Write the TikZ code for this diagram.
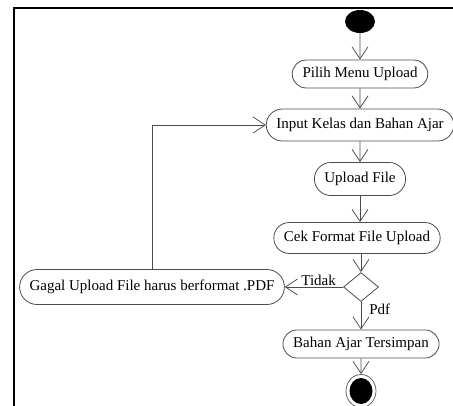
\documentclass[tikz,border=0pt]{standalone}
\usepackage{fontspec}
\setmainfont{Liberation Serif}
\usetikzlibrary{shapes.misc,shapes.geometric,arrows.meta}

\begin{document}
\begin{tikzpicture}[x=1pt, y=-1pt,
        aksi/.style={rounded rectangle, draw=black!70, line width=0.8pt, minimum height=30pt, inner xsep=8.5pt, font=\fontsize{15}{18}\selectfont},
        alur/.style={draw=black!70, line width=0.8pt, -{Straight Barb[length=12pt,width=16pt]}},
        ket/.style={font=\fontsize{15}{18}\selectfont, inner sep=1pt}]
        \useasboundingbox (0,0) rectangle (453,406);

        % Bingkai
        \draw[line width=2.5pt] (14,410) -- (14,8) -- (456,8);

        % Awal dan akhir
        \node[ellipse, fill=black, minimum width=30pt, minimum height=23pt, inner sep=0pt] (mulai) at (360,21.5) {};
        \node[ellipse, draw=black!60, line width=0.8pt, minimum width=30pt, minimum height=33pt, inner sep=0pt] (selesai) at (361,391) {};
        \node[ellipse, fill=black, minimum width=23pt, minimum height=26pt, inner sep=0pt] at (selesai) {};

        % Aktivitas
        \node[aksi, minimum height=28pt] (pilih) at (360,74) {Pilih Menu Upload};
        \node[aksi, minimum height=32pt] (input) at (360,125) {Input Kelas dan Bahan Ajar};
        \node[aksi, minimum height=33pt] (upload) at (360,179) {Upload File};
        \node[aksi, minimum height=31pt] (cek) at (357,238) {Cek Format File Upload};
        \node[diamond, draw=black!70, line width=0.8pt, minimum width=35pt, minimum height=29pt, inner sep=0pt] (format) at (361,287) {};
        \node[aksi, minimum height=35pt] (gagal) at (152,287) {Gagal Upload File harus berformat .PDF};
        \node[aksi, minimum height=28pt] (bahan) at (361,344) {Bahan Ajar Tersimpan};

        % Alur
        \draw[alur] (mulai) -- (pilih);
        \draw[alur] (pilih) -- (input);
        \draw[alur] (input) -- (upload);
        \draw[alur] (upload.south) -- (upload.south |- cek.north);
        \draw[alur] (cek.south -| format) -- (format);
        \draw[alur] (format.west) -- node[ket, above, pos=0.42] {Tidak} (gagal.east);
        \draw[alur] (format.south) -- node[ket, right=7pt, pos=0.25] {Pdf} (bahan.north);
        \draw[alur] (gagal.north) |- (input.west);
        \draw[alur] (bahan) -- (selesai);
    \end{tikzpicture}
\end{document}
